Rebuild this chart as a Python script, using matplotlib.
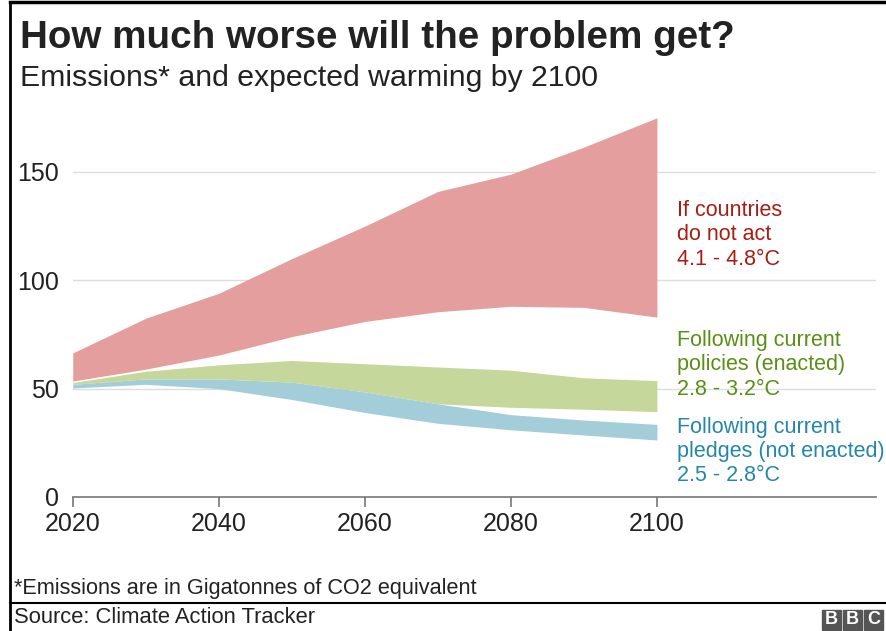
import numpy as np
import matplotlib.pyplot as plt
from matplotlib.lines import Line2D
from matplotlib.patches import Rectangle

plt.rcParams['font.family'] = ['Liberation Sans', 'DejaVu Sans']

# datos (Gt CO2e)
years = [2020, 2030, 2040, 2050, 2060, 2070, 2080, 2090, 2100]
no_action_hi = [66.5, 82.5, 94, 110, 125, 141, 149, 161.5, 175]
no_action_lo = [53.5, 59, 65.5, 74, 81, 85.5, 88, 87.5, 83]
policies_hi = [52.8, 58, 61, 63, 61.5, 60, 58.5, 55, 53.7]
policies_lo = [52, 54.5, 54.5, 53, 48.5, 43, 41.4, 40.5, 39.4]
pledges_hi = [52, 54.5, 54.5, 53, 48.5, 43, 38, 35.5, 33.5]
pledges_lo = [50.3, 52, 50, 45, 39, 34, 31, 28.6, 26.3]

labels = ["If countries\ndo not act\n4.1 - 4.8°C",
          "Following current\npolicies (enacted)\n2.8 - 3.2°C",
          "Following current\npledges (not enacted)\n2.5 - 2.8°C"]
label_y = [137, 77, 37]

fill_cols = ["#e59e9e", "#c5d79b", "#a3cdd9"]
text_cols = ["#a91c14", "#5b8e14", "#2387a8"]

fig = plt.figure(figsize=(8.87, 6.31), dpi=100)
ax = fig.add_axes([0.082, 0.2124, 0.9056, 0.6009])

ax.fill_between(years, no_action_lo, no_action_hi, color=fill_cols[0], lw=0)
ax.fill_between(years, pledges_lo, pledges_hi, color=fill_cols[2], lw=0)
ax.fill_between(years, policies_lo, policies_hi, color=fill_cols[1], lw=0)

for lab, yy, c in zip(labels, label_y, text_cols):
    ax.text(2102.7, yy, lab, color=c, fontsize=15.5, va='top', ha='left',
            linespacing=1.2)

ax.set_xlim(2020, 2130)
ax.set_ylim(0, 175)
ax.set_xticks([2020, 2040, 2060, 2080, 2100])
ax.set_yticks([0, 50, 100, 150])
ax.grid(axis='y', color='#dddddd', lw=1)
ax.set_axisbelow(True)
for s in ['top', 'right', 'left']:
    ax.spines[s].set_visible(False)
ax.spines['bottom'].set_color('#777777')
ax.spines['bottom'].set_linewidth(1.2)
ax.tick_params(axis='x', length=7.5, color='#777777', width=1.2,
               labelsize=18, pad=3, labelcolor='#222222')
ax.tick_params(axis='y', length=0, labelsize=18, pad=10, labelcolor='#222222')

# textos
fig.text(0.0225, 0.924, "How much worse will the problem get?", fontsize=27.8,
         fontweight='bold', color='#222222', va='baseline')
fig.text(0.0225, 0.864, "Emissions* and expected warming by 2100", fontsize=21.8,
         color='#222222', va='baseline')
fig.text(0.0158, 0.0586, "*Emissions are in Gigatonnes of CO2 equivalent",
         fontsize=15.6, color='#222222', va='baseline')
fig.text(0.0158, 0.0127, "Source: Climate Action Tracker", fontsize=15.8,
         color='#222222', va='baseline')

# marco
fig.add_artist(Line2D([0.011, 1], [0.997, 0.997], color='black', lw=2.5))
fig.add_artist(Line2D([0.011, 0.011], [0, 0.997], color='black', lw=2))
fig.add_artist(Line2D([0.011, 1], [0.0444, 0.0444], color='black', lw=1.5))

# logo BBC
for i, ch in enumerate("BBC"):
    x0 = (822 + i * 21) / 887
    fig.add_artist(Rectangle((x0, 0.002), 19 / 887, 0.031, color='#555555',
                             transform=fig.transFigure))
    fig.text(x0 + 9.5 / 887, 0.018, ch, color='white', fontsize=13,
             fontweight='bold', ha='center', va='center')

fig.savefig("out.png", dpi=100)
